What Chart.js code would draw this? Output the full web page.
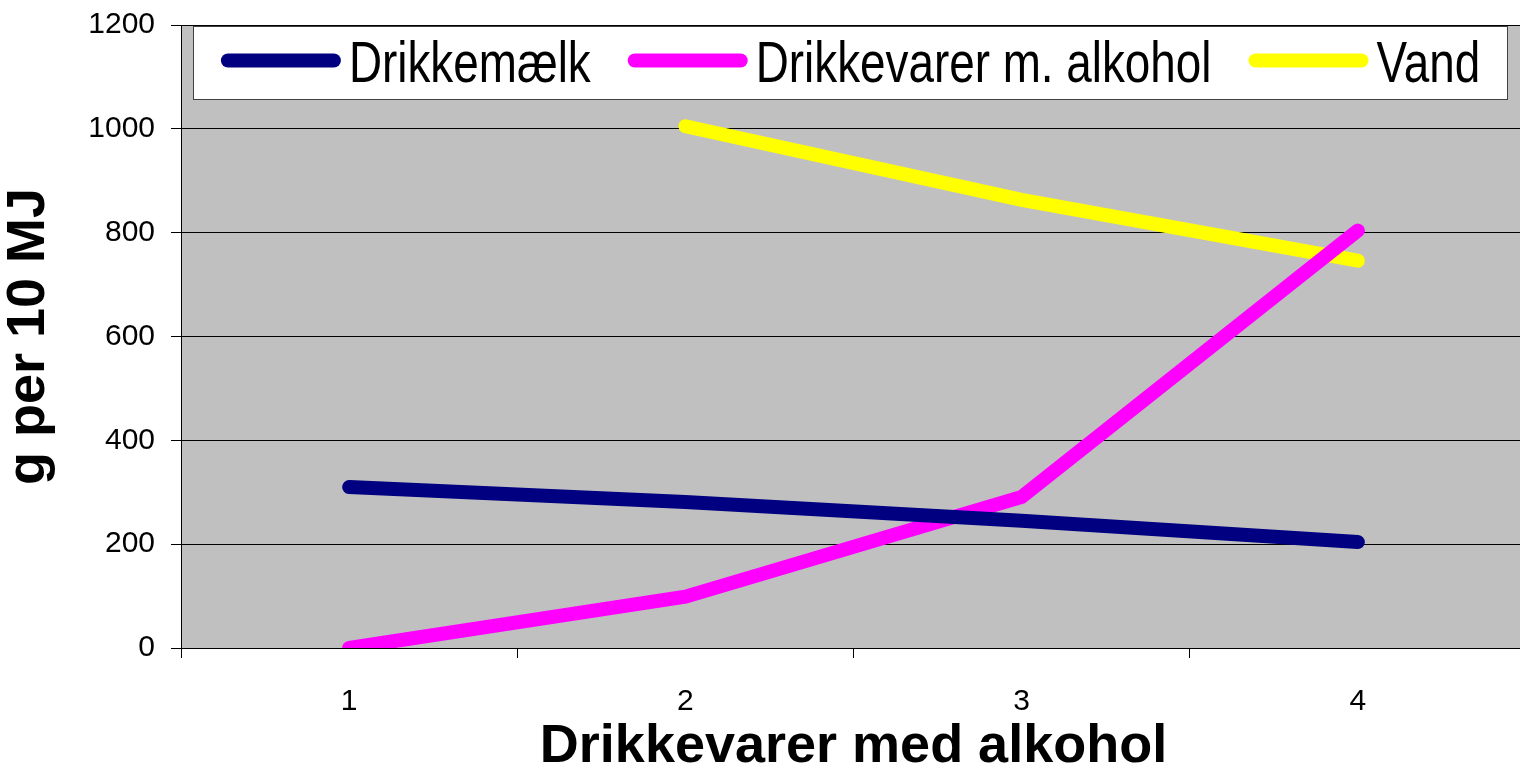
<!DOCTYPE html>
<html>
<head>
<meta charset="utf-8">
<script src="https://cdn.jsdelivr.net/npm/chart.js@4"></script>
<style>
  html, body { margin: 0; padding: 0; overflow: hidden; background: #fff; }
</style>
</head>
<body>
<canvas id="chart" width="1526" height="767"></canvas>
<script>
const categories = ["1", "2", "3", "4"];
const drikkemaelk = [310, 281, 245, 204];
const alkohol = [0, 99, 291, 804];
const vand = [null, 1005, 863, 746];
const yMin = 0, yMax = 1200, yStep = 200;

const SANS = "'Liberation Sans', Arial, sans-serif";

// grey plot background
const plotBg = {
    id: "plotBg",
    beforeDraw(chart) {
        const a = chart.chartArea;
        const ctx = chart.ctx;
        ctx.save();
        ctx.fillStyle = "#c0c0c0";
        ctx.fillRect(a.left, a.top, a.right - a.left, a.bottom - a.top);
        ctx.restore();
    }
};

// legend box sitting inside the plot, like the excel original
// text is squeezed a bit, the original uses a narrow face
const boxLegend = {
    id: "boxLegend",
    afterDraw(chart) {
        const ctx = chart.ctx;
        const a = chart.chartArea;
        const left = a.left + 12, top = a.top + 1;
        const w = 1315, h = 74;
        const squeeze = 0.79;
        ctx.save();
        ctx.fillStyle = "#fff";
        ctx.fillRect(left, top, w, h);
        ctx.strokeStyle = "#404040";
        ctx.lineWidth = 1;
        ctx.strokeRect(left + 0.5, top + 0.5, w - 1, h - 1);

        ctx.font = "58px " + SANS;
        const lineLen = 106, cap = 7, gap = 8, spacing = 37;
        const items = chart.data.datasets.map(ds => ({
            text: ds.label,
            color: ds.borderColor,
            tw: ctx.measureText(ds.label).width * squeeze
        }));
        let total = 0;
        items.forEach((it, i) => {
            total += lineLen + 2 * cap + gap + it.tw + (i ? spacing : 0);
        });
        let x = left + (w - total) / 2;
        const ly = top + 34.5;
        ctx.textBaseline = "alphabetic";
        items.forEach(it => {
            ctx.beginPath();
            ctx.strokeStyle = it.color;
            ctx.lineWidth = 14;
            ctx.lineCap = "round";
            ctx.moveTo(x + cap, ly);
            ctx.lineTo(x + cap + lineLen, ly);
            ctx.stroke();
            x += lineLen + 2 * cap + gap;
            ctx.save();
            ctx.translate(x, top + 56);
            ctx.scale(squeeze, 1);
            ctx.fillStyle = "#000";
            ctx.fillText(it.text, 0, 0);
            ctx.restore();
            x += it.tw + spacing;
        });
        ctx.restore();
    }
};

function line(label, values, color) {
    return {
        label: label,
        data: values,
        borderColor: color,
        backgroundColor: color,
        borderWidth: 14,
        borderCapStyle: "round",
        borderJoinStyle: "miter",
        pointRadius: 0,
        tension: 0,
        spanGaps: false,
        clip: 0
    };
}

new Chart(document.getElementById("chart"), {
    type: "line",
    data: {
        labels: categories,
        datasets: [
            line("Drikkemælk", drikkemaelk, "#000080"),
            line("Drikkevarer m. alkohol", alkohol, "#ff00ff"),
            line("Vand", vand, "#ffff00")
        ]
    },
    options: {
        responsive: false,
        animation: false,
        layout: { padding: { top: 25, left: 0, right: 0, bottom: 0 } },
        plugins: {
            legend: { display: false },
            tooltip: { enabled: false }
        },
        scales: {
            x: {
                offset: true,
                grid: {
                    offset: true,
                    drawOnChartArea: false,
                    tickLength: 10,
                    color: "#000"
                },
                border: { color: "#000", width: 1 },
                ticks: {
                    color: "#000",
                    padding: 29,
                    font: { family: SANS, size: 30, lineHeight: 1 }
                },
                title: {
                    display: true,
                    text: "Drikkevarer med alkohol",
                    color: "#000",
                    font: { family: SANS, size: 54, weight: "bold", lineHeight: 0.6 },
                    padding: { top: 0, bottom: 4 }
                },
                afterFit(scale) {
                    scale.height = 119;
                    scale.paddingLeft = 0;
                    scale.paddingRight = 0;
                }
            },
            y: {
                min: yMin,
                max: yMax,
                grid: { color: "#000", tickLength: 10 },
                border: { color: "#000", width: 1 },
                ticks: {
                    stepSize: yStep,
                    color: "#000",
                    padding: 16,
                    font: { family: SANS, size: 30, lineHeight: 1 },
                    callback: v => String(v)
                },
                title: {
                    display: true,
                    text: "g per 10 MJ",
                    color: "#000",
                    font: { family: SANS, size: 54, weight: "bold", lineHeight: 1 },
                    padding: { top: 2, bottom: 0 }
                },
                afterFit(scale) {
                    scale.width = 181;
                    scale.paddingTop = 0;
                    scale.paddingBottom = 0;
                }
            }
        }
    },
    plugins: [plotBg, boxLegend]
});
</script>
</body>
</html>
